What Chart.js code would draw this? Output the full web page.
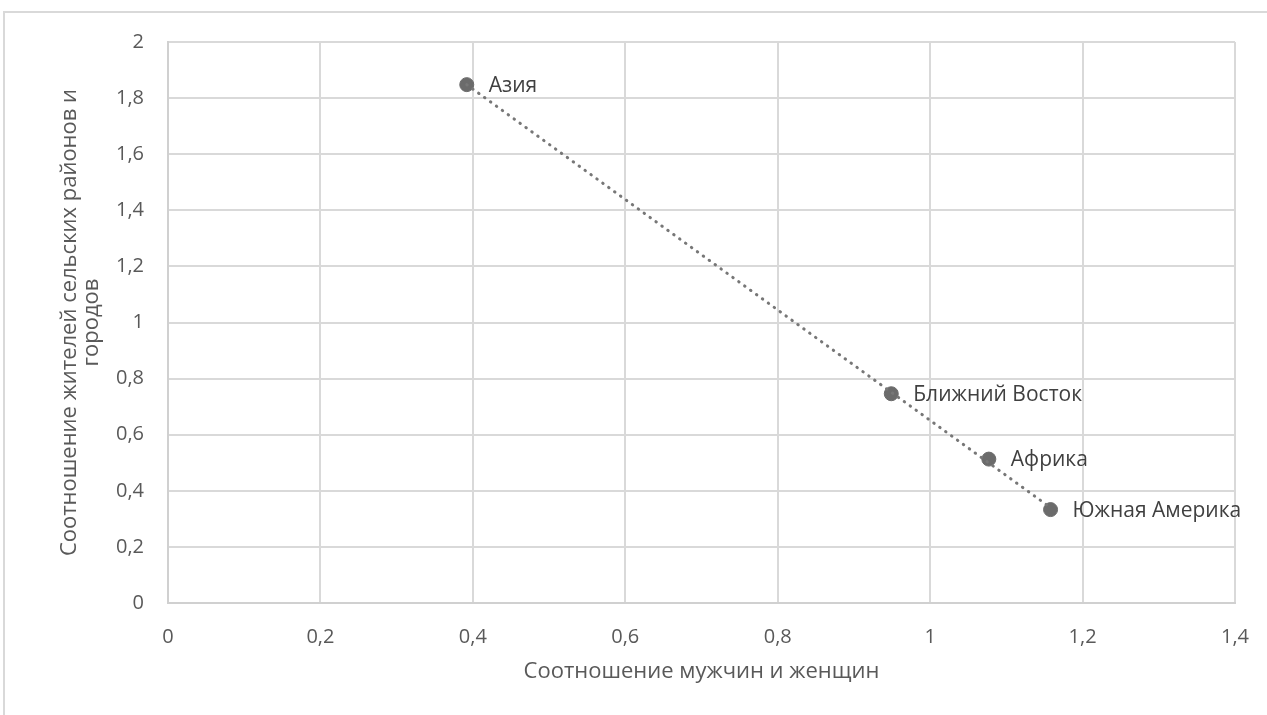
<!DOCTYPE html>
<html>
<head>
<meta charset="utf-8">
<script src="https://cdn.jsdelivr.net/npm/chart.js@4.4.0/dist/chart.umd.min.js"></script>
<style>
  html, body { margin: 0; padding: 0; background: #fff; }
  #frame { position: absolute; left: 3px; top: 11px; width: 1300px; height: 740px; border: 2px solid #d9d9d9; }
  #wrap { position: absolute; left: 0; top: 0; width: 1267px; height: 715px; }
</style>
</head>
<body>
<div id="frame"></div>
<div id="wrap"><canvas id="chart" width="1267" height="715"></canvas></div>
<script>
// regions and their values
const regions = ['Азия', 'Ближний Восток', 'Африка', 'Южная Америка'];
const sexRatio = [0.392, 0.949, 1.077, 1.158];
const ruralUrban = [1.848, 0.746, 0.513, 0.333];

// linear trendline end points
const trendX = [0.392, 1.158];
const trendY = [1.848, 0.340];

const xTitle = 'Соотношение мужчин и женщин';
const yTitle = ['Соотношение жителей сельских районов и', 'городов'];

const fontFamily = '"Open Sans", "Noto Sans", sans-serif';
const fmt = v => String(Math.round(v * 10) / 10).replace('.', ',');

const pointLabels = {
    id: 'pointLabels',
    afterDatasetsDraw(chart) {
        const meta = chart.getDatasetMeta(0);
        const c = chart.ctx;
        c.save();
        c.font = '21px ' + fontFamily;
        c.fillStyle = '#404040';
        c.textAlign = 'left';
        c.textBaseline = 'middle';
        meta.data.forEach((pt, i) => {
            c.fillText(regions[i], pt.x + 22, pt.y + 1);
        });
        c.restore();
    }
};

const ctx = document.getElementById('chart').getContext('2d');
const chart = new Chart(ctx, {
    type: 'scatter',
    data: {
        datasets: [{
            data: sexRatio.map((x, i) => ({ x: x, y: ruralUrban[i] })),
            backgroundColor: '#6b6b6b',
            borderColor: '#6b6b6b',
            pointRadius: 7,
            pointHoverRadius: 7,
            order: 1
        }, {
            data: trendX.map((x, i) => ({ x: x, y: trendY[i] })),
            showLine: true,
            borderColor: '#777777',
            borderWidth: 3,
            borderDash: [0.5, 6.8],
            borderCapStyle: 'round',
            pointRadius: 0,
            fill: false,
            order: 0
        }]
    },
    options: {
        responsive: false,
        animation: false,
        events: [],
        layout: { padding: { left: 0, right: 32, top: 42, bottom: 0 } },
        plugins: {
            legend: { display: false },
            tooltip: { enabled: false }
        },
        scales: {
            x: {
                type: 'linear',
                min: 0, max: 1.4,
                afterFit(s) { s.height = 112; s.paddingLeft = 0; s.paddingRight = 0; },
                border: { color: '#d0d0d0', width: 2 },
                grid: { color: '#d9d9d9', lineWidth: 2, drawTicks: false },
                ticks: {
                    stepSize: 0.2, padding: 22, color: '#595959',
                    font: { family: fontFamily, size: 20 },
                    callback: v => fmt(v)
                },
                title: {
                    display: true, text: xTitle, color: '#595959',
                    font: { family: fontFamily, size: 22 },
                    padding: { top: 0, bottom: 30 }
                }
            },
            y: {
                type: 'linear',
                min: 0, max: 2,
                afterFit(s) { s.width = 168; s.paddingTop = 0; s.paddingBottom = 0; },
                border: { color: '#d0d0d0', width: 2 },
                grid: { color: '#d9d9d9', lineWidth: 2, drawTicks: false },
                ticks: {
                    stepSize: 0.2, padding: 24, color: '#595959',
                    font: { family: fontFamily, size: 20 },
                    callback: v => fmt(v)
                },
                title: {
                    display: true, text: yTitle, color: '#595959',
                    font: { family: fontFamily, size: 22, lineHeight: 1.0 },
                    padding: { top: 59, bottom: 0 }
                }
            }
        }
    },
    plugins: [pointLabels]
});
</script>
</body>
</html>
